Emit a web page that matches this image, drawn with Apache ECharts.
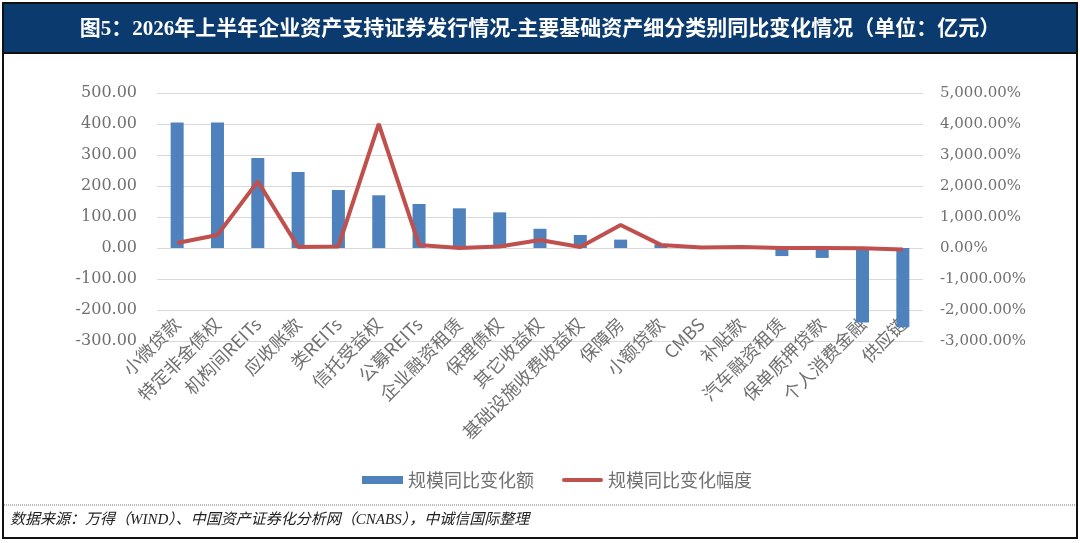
<!DOCTYPE html>
<html>
<head>
<meta charset="utf-8">
<script src="https://cdn.jsdelivr.net/npm/echarts@6/dist/echarts.min.js"></script>
<style>
  html, body { margin: 0; padding: 0; background: #fff; }
  #chart { width: 1080px; height: 543px; }
</style>
</head>
<body>
<div id="chart"></div>
<script>
// categories and values
var categories = ['小微贷款', '特定非金债权', '机构间REITs', '应收账款', '类REITs', '信托受益权',
  '公募REITs', '企业融资租赁', '保理债权', '其它收益权', '基础设施收费收益权', '保障房',
  '小额贷款', 'CMBS', '补贴款', '汽车融资租赁', '保单质押贷款', '个人消费金融', '供应链'];
var changeAmount = [405, 405, 290, 245, 187, 170, 142, 128, 115, 62, 42, 27, 12, 3, 2, -26, -32, -240, -256];
var changeRate = [160, 420, 2150, 30, 50, 4000, 100, 0, 50, 260, 30, 740, 100, 20, 30, 0, 0, -10, -50];
var leftTicks = [-300, 500, 100];
var rightTicks = [-3000, 5000, 1000];

var serif = '"DejaVu Serif", "Liberation Serif", serif';
var titleFont = '"Liberation Serif", "Noto Sans CJK SC", serif';
var cjk = '"Noto Sans CJK SC", "Noto Sans", sans-serif';
var grey = '#707070';

function fmtAmount(v) {
  return v.toFixed(2);
}
function fmtRate(v) {
  var s = Math.abs(v).toFixed(2).replace(/\B(?=(\d{3})+(?!\d))/g, ',');
  return (v < 0 ? '-' : '') + s + '%';
}

var option = {
  animation: false,
  backgroundColor: '#fff',
  title: {
    text: '图5：2026年上半年企业资产支持证券发行情况-主要基础资产细分类别同比变化情况（单位：亿元）',
    left: 'center',
    top: 14,
    textStyle: {
      color: '#fff',
      fontSize: 21,
      fontWeight: 'bold',
      fontFamily: titleFont
    }
  },
  graphic: [
    { type: 'rect', z: -10, shape: { x: 3, y: 3, width: 1074, height: 535 },
      style: { fill: '#fff', stroke: '#111', lineWidth: 2 } },
    { type: 'rect', z: -9, shape: { x: 4, y: 4, width: 1072, height: 48 },
      style: { fill: '#0b3a6f' } },
    { type: 'line', z: -8, shape: { x1: 4, y1: 53, x2: 1076, y2: 53 },
      style: { stroke: '#111', lineWidth: 2 } },
    { type: 'line', z: -8, shape: { x1: 4, y1: 505, x2: 1076, y2: 505 },
      style: { stroke: '#777', lineWidth: 1, lineDash: [1, 1] } },
    { type: 'text', left: 10, top: 513,
      style: { text: '数据来源：万得（WIND）、中国资产证券化分析网（CNABS），中诚信国际整理',
        fill: '#222', fontSize: 15, fontStyle: 'italic', fontFamily: titleFont } }
  ],
  legend: {
    top: 466,
    left: 357,
    itemWidth: 41,
    itemHeight: 10,
    itemGap: 28,
    textStyle: { color: grey, fontSize: 18, fontFamily: cjk },
    data: [
      { name: '规模同比变化额', icon: 'path://M0,1 L40,1 L40,9 L0,9 Z' },
      { name: '规模同比变化幅度', icon: 'path://M2,3 L38,3 A2,2 0 0 1 38,7 L2,7 A2,2 0 0 1 2,3 Z' }
    ]
  },
  grid: {
    left: 157,
    right: 157,
    top: 93,
    bottom: 202
  },
  xAxis: {
    type: 'category',
    data: categories,
    axisLine: { show: false },
    axisTick: { show: false },
    position: 'bottom',
    offset: -22,
    axisLabel: {
      interval: 0,
      rotate: 45,
      color: grey,
      fontSize: 18,
      fontFamily: cjk,
      margin: 2
    }
  },
  yAxis: [
    {
      type: 'value',
      min: leftTicks[0],
      max: leftTicks[1],
      interval: leftTicks[2],
      axisLine: { show: false },
      axisTick: { show: false },
      splitLine: { lineStyle: { color: '#d9d9d9', width: 1 } },
      axisLabel: { color: grey, fontSize: 16, fontFamily: serif, margin: 20, formatter: fmtAmount }
    },
    {
      type: 'value',
      min: rightTicks[0],
      max: rightTicks[1],
      interval: rightTicks[2],
      axisLine: { show: false },
      axisTick: { show: false },
      splitLine: { show: false },
      axisLabel: { color: grey, fontSize: 15, fontFamily: serif, margin: 17, formatter: fmtRate }
    }
  ],
  series: [
    {
      name: '规模同比变化额',
      type: 'bar',
      yAxisIndex: 0,
      data: changeAmount,
      barWidth: 13,
      itemStyle: { color: '#4f81bd' }
    },
    {
      name: '规模同比变化幅度',
      type: 'line',
      yAxisIndex: 1,
      data: changeRate,
      symbol: 'none',
      lineStyle: { color: '#c0504d', width: 4 },
      itemStyle: { color: '#c0504d' }
    }
  ]
};

var chart = echarts.init(document.getElementById('chart'));
chart.setOption(option);
window.addEventListener('resize', function () {
  chart.resize();
});
</script>
</body>
</html>
